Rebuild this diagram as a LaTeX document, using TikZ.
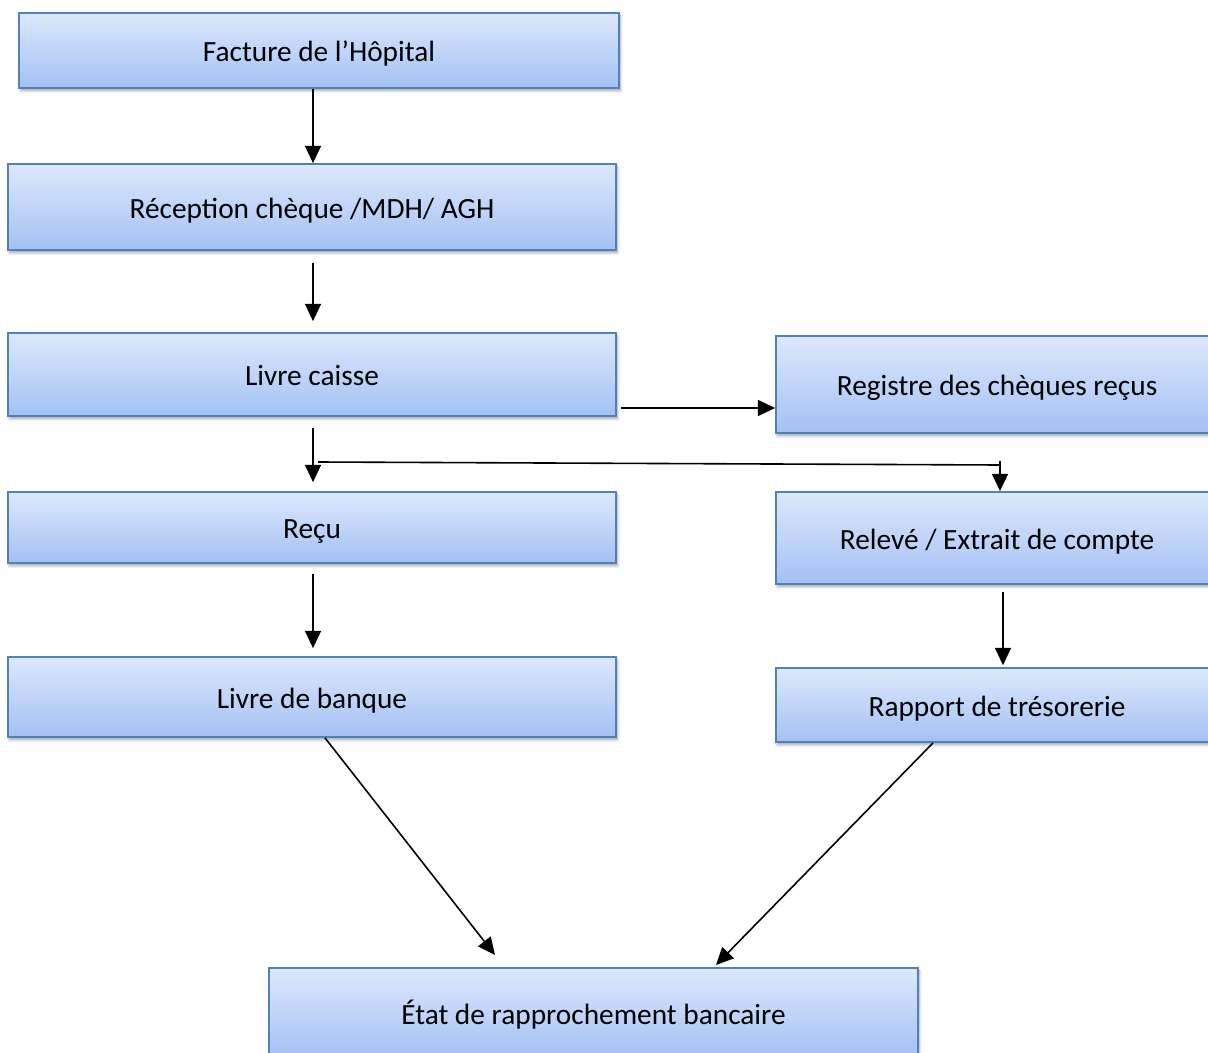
\documentclass[tikz,border=0pt]{standalone}
\usepackage{fontspec}
\setmainfont{Carlito}
\usetikzlibrary{arrows.meta,shadows.blur}
\definecolor{bTop}{RGB}{221,232,252}
\definecolor{bBot}{RGB}{163,193,244}
\definecolor{bEdge}{RGB}{79,129,189}
\tikzset{
  box/.style={draw=bEdge, line width=1.3pt, top color=bTop, bottom color=bBot,
    inner sep=0pt, font=\fontsize{22}{26}\selectfont, text height=17pt, text depth=0pt,
    blur shadow={shadow xshift=1pt, shadow yshift=-2.2pt, shadow blur steps=6, shadow opacity=35, shadow blur radius=2pt}},
  arr/.style={line width=1.2pt, -{Triangle[length=13pt,width=12pt]}},
  ln/.style={line width=1.2pt}
}
\begin{document}
\begin{tikzpicture}[x=0.75pt,y=-0.75pt]
\useasboundingbox (0,0) rectangle (1208,1053);
\node[box, minimum width=450pt, minimum height=56.25pt] (fact) at (319,50.5) {Facture de l’Hôpital};
\node[box, minimum width=456pt, minimum height=64.5pt] (recep) at (312,207) {Réception chèque /MDH/ AGH};
\node[box, minimum width=456pt, minimum height=62.25pt] (caisse) at (312,374.5) {Livre caisse};
\node[box, minimum width=456pt, minimum height=53.25pt] (recu) at (312,527.5) {Reçu};
\node[box, minimum width=456pt, minimum height=60pt] (banque) at (312,697) {Livre de banque};
\node[box, minimum width=331.5pt, minimum height=72.75pt] (reg) at (997,384.5) {Registre des chèques reçus};
\node[box, minimum width=331.5pt, minimum height=69pt] (releve) at (997,538) {Relevé / Extrait de compte};
\node[box, minimum width=331.5pt, minimum height=55.5pt] (rapport) at (997,705) {Rapport de trésorerie};
\node[box, minimum width=486.75pt, minimum height=67.5pt] (etat) at (593.5,1013) {État de rapprochement bancaire};

\coordinate (xL) at (313,0);
\coordinate (xR) at (1003,0);
\coordinate (yH) at (0,408);
\coordinate (split) at (318,462);
\coordinate (turn) at (1000,465);
\coordinate (tick) at (1000,461);
\coordinate (e1) at (495,955);
\coordinate (e2) at (716,965);
\coordinate (s1) at (325,0);
\coordinate (s2) at (933,0);

\draw[arr] (fact.south -| xL) -- (recep.north -| xL);
\draw[arr, shorten <=9pt, shorten >=8.25pt] (recep.south -| xL) -- (caisse.north -| xL);
\draw[arr, shorten <=3pt] (caisse.east |- yH) -- (reg.west |- yH);
\draw[arr, shorten <=8.25pt, shorten >=6.75pt] (caisse.south -| xL) -- (recu.north -| xL);
\draw[ln] (split) -- (turn);
\draw[arr] (tick) -- (releve.north -| tick);
\draw[arr, shorten <=7.5pt, shorten >=6pt] (recu.south -| xL) -- (banque.north -| xL);
\draw[arr, shorten <=5.25pt, shorten >=1.5pt] (releve.south -| xR) -- (rapport.north -| xR);
\draw[arr] (banque.south -| s1) -- (e1);
\draw[arr] (rapport.south -| s2) -- (e2);
\end{tikzpicture}
\end{document}
